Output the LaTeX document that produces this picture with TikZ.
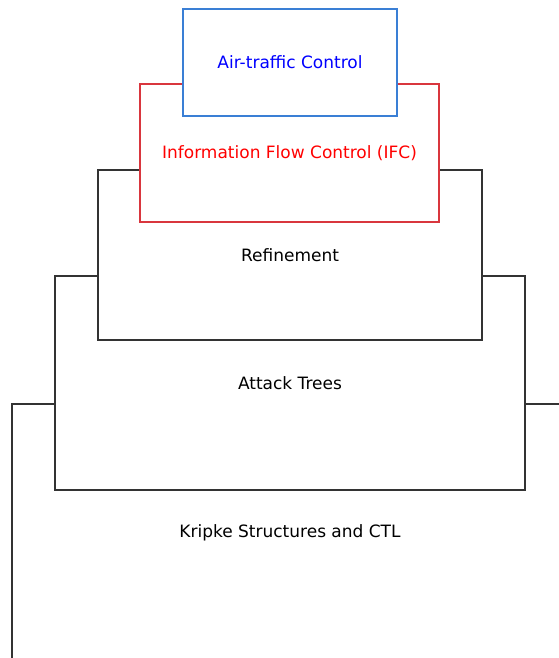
\documentclass[tikz,border=0pt]{standalone}
\usepackage{fontspec}
\setmainfont{DejaVu Sans}
\definecolor{atcline}{HTML}{3A7FD5}
\definecolor{ifcline}{HTML}{D9363E}
\definecolor{boxline}{HTML}{333333}
\begin{document}
\begin{tikzpicture}[x=1pt, y=-1pt,
    layer/.style={rectangle, draw=boxline, fill=white, line width=1.6pt, inner sep=0pt, font=\fontsize{17}{20}\selectfont}]
	\pgfmathsetmacro{\xmid}{289.5}

	\useasboundingbox (0,0) rectangle (559,658);

	% biggest first, each one on top of the one before
	\node [layer, minimum width=556pt, minimum height=258pt] (kripke) at (\xmid+0.5, 533) {Kripke Structures and CTL};
	\node [layer, minimum width=470pt, minimum height=214pt] (attack) at (\xmid+0.5, 383) {Attack Trees};
	\node [layer, minimum width=384pt, minimum height=170pt] (refine) at (\xmid+0.5, 255) {Refinement};
	\node [layer, draw=ifcline, text=red, minimum width=299pt, minimum height=138pt] (ifc) at (\xmid, 153) {Information Flow Control (IFC)};
	\node [layer, draw=atcline, text=blue, minimum width=214pt, minimum height=107pt] (atc) at (\xmid+0.5, 62.5) {Air-traffic Control};

\end{tikzpicture}
\end{document}
